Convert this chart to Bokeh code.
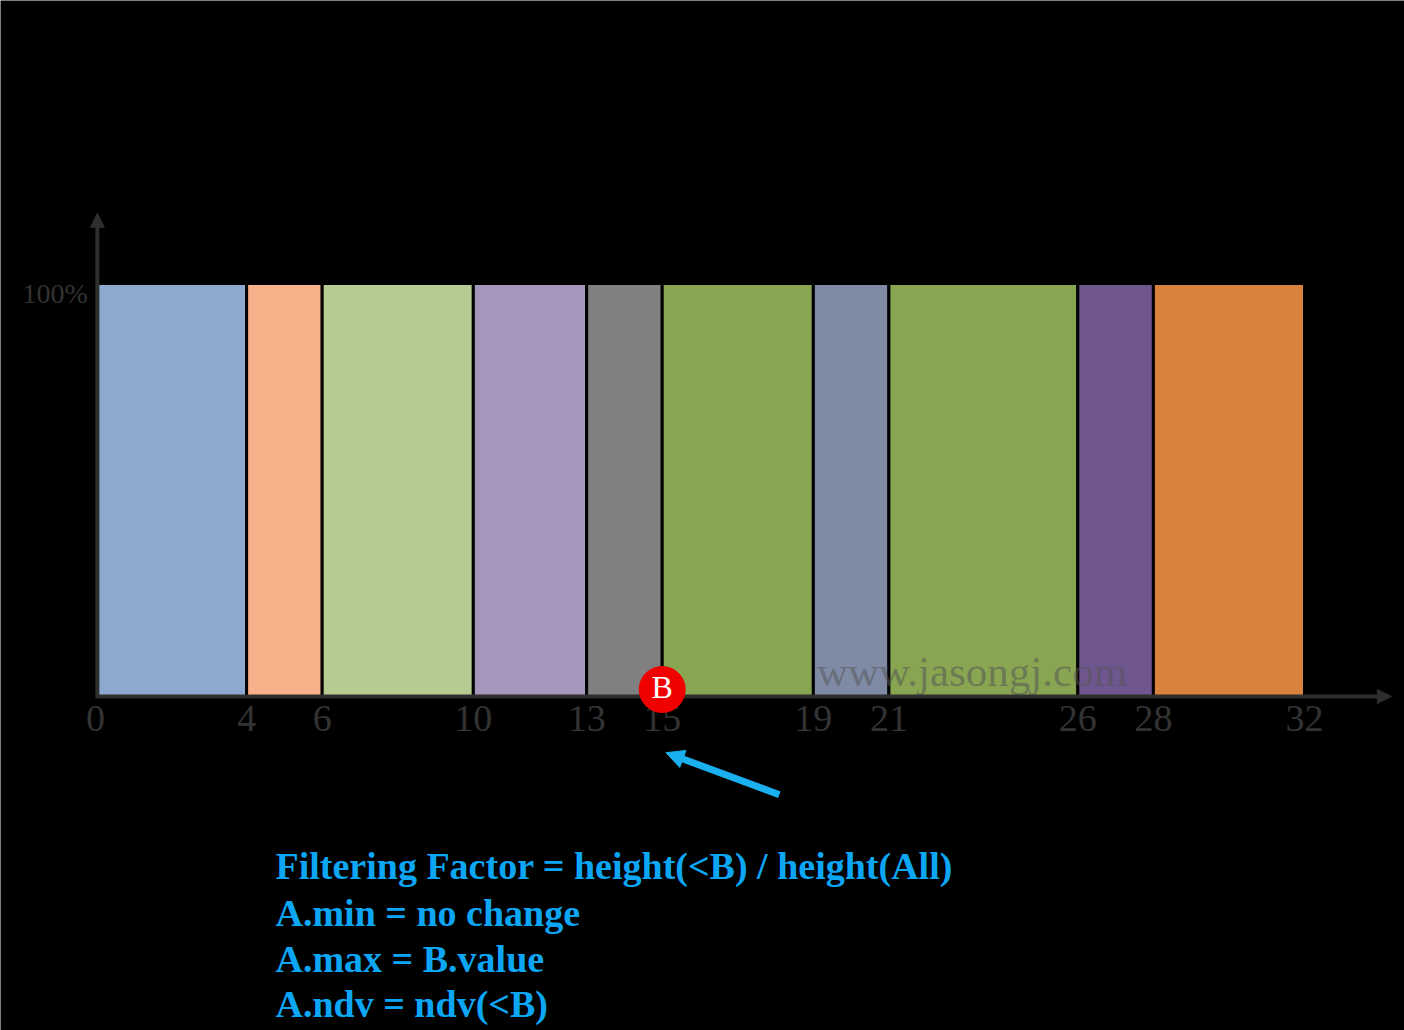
from bokeh.plotting import figure
from bokeh.models import Arrow, NormalHead, Range1d
from bokeh.core.properties import value
from bokeh.embed import file_html
from bokeh.resources import INLINE

# Data
edges = [0, 4, 6, 10, 13, 15, 19, 21, 26, 28, 32]
heights = [100, 100, 100, 100, 100, 100, 100, 100, 100, 100]
colors = ["#8EA9CF", "#F8B08A", "#B6CB92", "#A597BC", "#808080",
          "#88A551", "#7F8BA5", "#88A551", "#70568F", "#D8823E"]
tick_labels = [str(e) for e in edges]
y_label = "100%"
b_value = 15
notes = ["Filtering Factor = height(<B) / height(All)",
         "A.min = no change",
         "A.max = B.value",
         "A.ndv = ndv(<B)"]
watermark = "www.jasongj.com"

W, H = 1404, 1030
px_x = (1304 - 95) / 32.0
px_y = (696 - 283) / 100.0

p = figure(width=W, height=H, output_backend="svg", toolbar_location=None,
           x_range=Range1d(-95 / px_x, (W - 95) / px_x),
           y_range=Range1d(-(H - 696) / px_y, 696 / px_y),
           min_border=0, background_fill_color="black",
           border_fill_color="black", outline_line_color=None)
p.axis.visible = False
p.grid.visible = False

lefts = edges[:-1]
rights = edges[1:]
p.quad(left=lefts, right=rights, bottom=[0] * len(heights), top=heights,
       fill_color=colors, line_color="black", line_width=3)

# watermark
p.text(x=[(19 + 27.4) / 2], y=[6], text=[watermark], text_align="center",
       text_baseline="middle", text_font=value("Liberation Serif"),
       text_font_size="43px", text_color="#555555", text_alpha=0.55)

# axes lines with arrows
axis_col = "#2e2e2e"
p.add_layout(Arrow(end=NormalHead(size=14, fill_color=axis_col, line_color=axis_col),
                   x_start=0, y_start=0, x_end=34.3, y_end=0,
                   line_color=axis_col, line_width=4))
p.add_layout(Arrow(end=NormalHead(size=14, fill_color=axis_col, line_color=axis_col),
                   x_start=0.05, y_start=0, x_end=0.05, y_end=117,
                   line_color=axis_col, line_width=4))

# tick labels
p.text(x=edges, y=[-2.3] * len(edges), text=tick_labels, text_align="center",
       text_baseline="top", text_font=value("Liberation Serif"),
       text_font_size="38px", text_color="#333333")
p.text(x=[-0.2], y=[100 - 2.4], text=[y_label], text_align="right",
       text_baseline="middle", text_font=value("Liberation Serif"),
       text_font_size="28px", text_color="#333333")

# B marker
p.scatter(x=[b_value], y=[1.7], size=46, marker="circle",
          fill_color="#F00000", line_color="#F00000", level="overlay")
p.text(x=[b_value], y=[1.7], y_offset=[-2], text=["B"], text_align="center",
       text_baseline="middle", text_font=value("Liberation Serif"),
       text_font_size="32px", text_color="white", level="overlay")

# blue arrow
p.add_layout(Arrow(end=NormalHead(size=18, fill_color="#1AAFEF", line_color="#1AAFEF"),
                   x_start=18.1, y_start=-23.8, x_end=15.1, y_end=-13.6,
                   line_color="#1AAFEF", line_width=7))

# notes
note_x = (275 - 95) / px_x
note_y = [-(865 - 696) / px_y, -(912 - 696) / px_y,
          -(958 - 696) / px_y, -(1003 - 696) / px_y]
p.text(x=[note_x] * len(notes), y=note_y, text=notes, text_align="left",
       text_baseline="middle", text_font=value("Liberation Serif"),
       text_font_style="bold", text_font_size="38px", text_color="#0DA6F5")

open("out.html", "w").write(file_html(p, INLINE))
